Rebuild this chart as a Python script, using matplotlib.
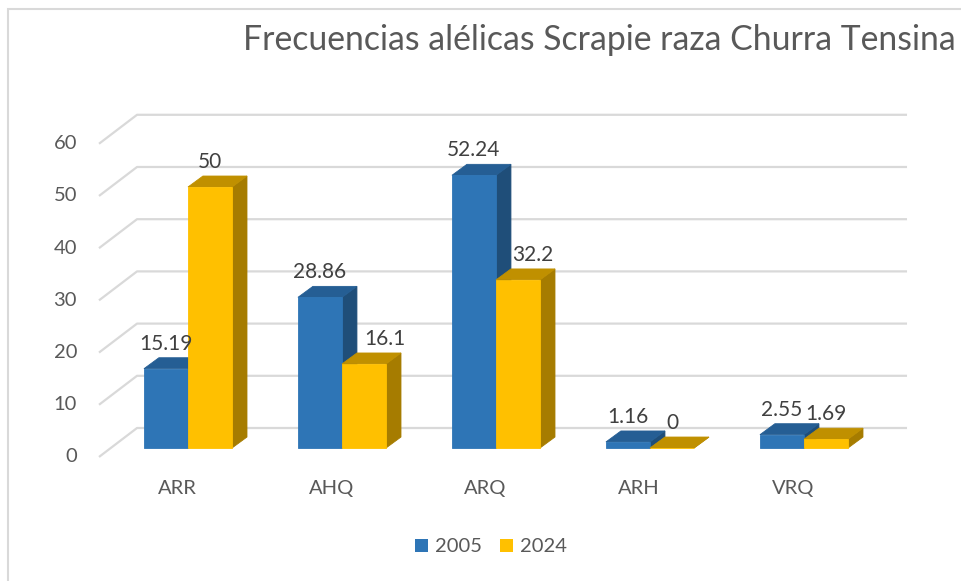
import numpy as np
import matplotlib
matplotlib.use('Agg')
import matplotlib.pyplot as plt
from matplotlib.patches import Polygon, Patch, Rectangle

plt.rcParams['font.family'] = ['Lato', 'DejaVu Sans']

# data
categories = ['ARR', 'AHQ', 'ARQ', 'ARH', 'VRQ']
years = ['2005', '2024']
vals_2005 = [15.19, 28.86, 52.24, 1.16, 2.55]
vals_2024 = [50, 16.1, 32.2, 0, 1.69]
yticks = [0, 10, 20, 30, 40, 50, 60]
title = 'Frecuencias alélicas Scrapie raza Churra Tensina'

# colours (front, top, side)
cols = [('#2E75B6', '#255E94', '#1F4E79'),
        ('#FFC000', '#C09000', '#A67C00')]
txt = '#595959'
grid = '#D9D9D9'

# 3d look
w = 0.286          # bar width (category units)
dx, dy = 0.097, 2.1  # depth of a bar
fx, fy = -0.578, -1.72   # front-left corner of floor grid
bx, by = -0.331, 3.83    # back wall
gx_end = 4.669

# excel nudges some labels sideways so they don't sit on the neighbour bar
nudge_2024 = {1: 0.136, 2: 0.097}

fig = plt.figure(figsize=(9.61, 5.81), dpi=100)
ax = fig.add_axes([0, 0, 1, 1])
ax.set_xlim(-1.2208, 5.0195)
ax.set_ylim(-25.48, 85.82)
ax.axis('off')

# chart border
fig.patches.append(Rectangle((7.5 / 961, -0.1), 2.0, 1.1 - 8.5 / 581, transform=fig.transFigure,
                             fill=False, edgecolor='#D9D9D9', linewidth=1.5))

# gridlines
for v in yticks:
    ax.plot([fx, bx, gx_end], [v + fy, v + by, v + by], color=grid, lw=1.6,
            solid_capstyle='butt', zorder=1)
    ax.text(-0.72, v + fy, str(v), ha='right', va='center', fontsize=14.5, color=txt)


def bar3d(x0, v, c):
    x1 = x0 + w
    front = Polygon([(x0, 0), (x1, 0), (x1, v), (x0, v)], closed=True,
                    facecolor=c[0], edgecolor=c[0], lw=0.6, zorder=3)
    top = Polygon([(x0, v), (x1, v), (x1 + dx, v + dy), (x0 + dx, v + dy)], closed=True,
                  facecolor=c[1], edgecolor=c[1], lw=0.6, zorder=3)
    side = Polygon([(x1, 0), (x1 + dx, dy), (x1 + dx, v + dy), (x1, v)], closed=True,
                   facecolor=c[2], edgecolor=c[2], lw=0.6, zorder=3)
    for p in (side, top, front):
        ax.add_patch(p)


for i, cat in enumerate(categories):
    for j, vals in enumerate([vals_2005, vals_2024]):
        x0 = i - w + j * w
        bar3d(x0, vals[i], cols[j])
        off = nudge_2024.get(i, 0) if j == 1 else 0
        ax.text(x0 + w / 2 + off, vals[i] + 4.8, '%g' % vals[i], ha='center', va='center',
                fontsize=15, color='#404040', zorder=5)
    ax.text(i - 0.071, -7.85, cat, ha='center', va='center', fontsize=14.5, color=txt)

fig.text(599 / 961, 1 - 40 / 581, title, ha='center', va='center', fontsize=24.3, color=txt)

handles = [Patch(facecolor=cols[0][0]), Patch(facecolor=cols[1][0])]
fig.legend(handles, years, loc='center', bbox_to_anchor=(491 / 961, 1 - 547 / 581), ncol=2,
           frameon=False, fontsize=14.5, labelcolor=txt, handlelength=0.65, handleheight=0.65,
           handletextpad=0.35, columnspacing=0.9)

plt.savefig('out.png', dpi=100)
plt.close()
